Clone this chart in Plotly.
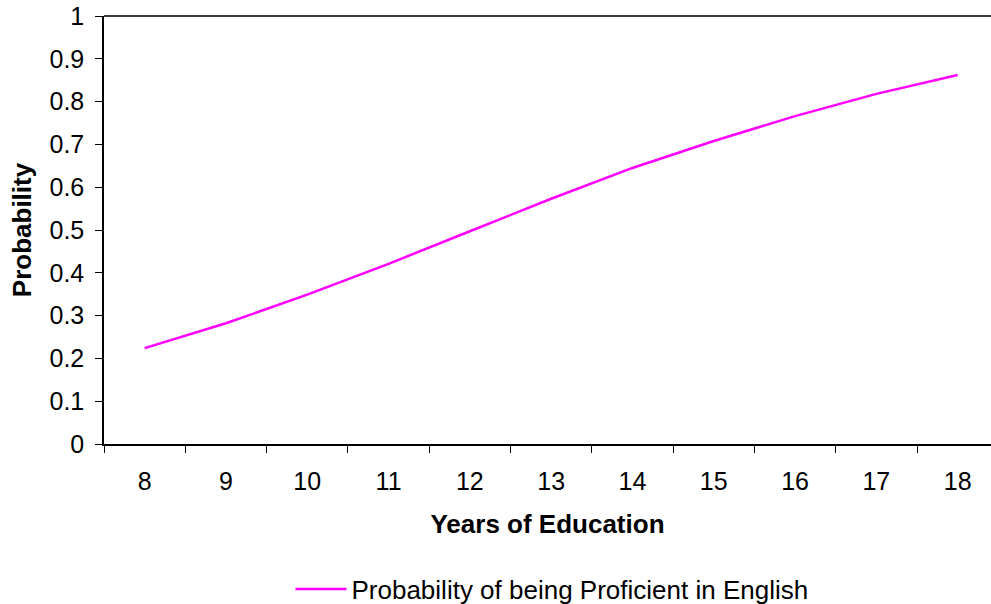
import plotly.graph_objects as go

years = ["8", "9", "10", "11", "12", "13", "14", "15", "16", "17", "18"]
probability = [0.224, 0.282, 0.349, 0.421, 0.497, 0.573, 0.645, 0.708, 0.766, 0.818, 0.862]
series_name = "Probability of being Proficient in English"
y_ticks = [0, 0.1, 0.2, 0.3, 0.4, 0.5, 0.6, 0.7, 0.8, 0.9, 1]
y_tick_labels = ["0", "0.1", "0.2", "0.3", "0.4", "0.5", "0.6", "0.7", "0.8", "0.9", "1"]

fig = go.Figure()
fig.add_trace(go.Scatter(
    x=years, y=probability, mode="lines", name=series_name,
    line=dict(color="#FF00FF", width=2.5),
))

font = "Liberation Sans, Arial, sans-serif"
fig.update_layout(
    width=991, height=604,
    margin=dict(l=104, r=0, t=16, b=160),
    paper_bgcolor="white", plot_bgcolor="white",
    font=dict(family=font, size=25, color="black"),
    showlegend=True,
    legend=dict(orientation="h", x=0.557, xanchor="center", xref="container",
                y=0.0248, yanchor="middle", yref="container",
                font=dict(size=26), itemwidth=51),
    xaxis=dict(
        type="category", range=[-0.5, 10.41], tickson="boundaries",
        showline=True, linecolor="black", linewidth=1.5,
        ticks="outside", ticklen=7, tickcolor="black", tickwidth=1,
        showgrid=False, zeroline=False,
        tickfont=dict(size=25), ticklabelstandoff=14,
        title=dict(text="<b>Years of Education</b>", font=dict(size=26), standoff=21),
    ),
    yaxis=dict(
        range=[0, 1], tickvals=y_ticks, ticktext=y_tick_labels,
        showline=True, linecolor="black", linewidth=1.5,
        ticks="outside", ticklen=7, tickcolor="black", tickwidth=1,
        showgrid=False, zeroline=False,
        tickfont=dict(size=25), ticklabelstandoff=6,
        title=dict(text="<b>Probability</b>", font=dict(size=26), standoff=10),
    ),
    shapes=[dict(type="line", xref="paper", yref="paper", x0=0, x1=1, y0=1, y1=1,
                 line=dict(color="black", width=1.5))],
)

fig.write_html("out.html", config={"displayModeBar": False},
               post_script="document.body.style.margin='0';document.body.style.overflow='hidden';")
